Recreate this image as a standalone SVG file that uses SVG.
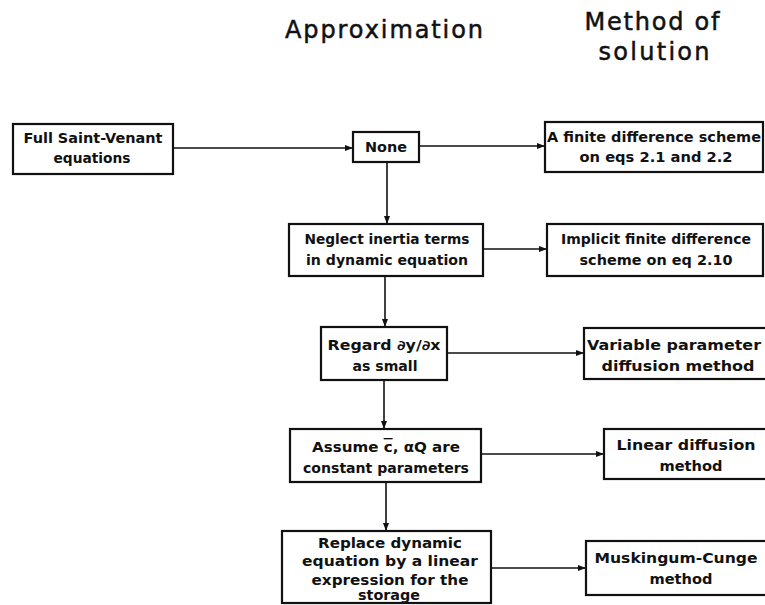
<svg xmlns="http://www.w3.org/2000/svg" width="765" height="605" viewBox="0 0 765 605">
<style>
.box{fill:#fff;stroke:#111;stroke-width:2.2}
.t{font-family:"DejaVu Sans","Liberation Sans",Arial,sans-serif;font-size:13.5px;font-weight:bold;fill:#111;text-anchor:middle}
.h{font-family:"DejaVu Sans","Liberation Sans",Arial,sans-serif;font-size:24px;fill:#111;text-anchor:middle;stroke:#111;stroke-width:0.5}
.c{stroke:#111;stroke-width:1.6;fill:none;marker-end:url(#ah)}
</style>
<defs>
<marker id="ah" markerUnits="userSpaceOnUse" markerWidth="8" markerHeight="6" refX="8" refY="3" orient="auto">
<path d="M0,0 L8,3 L0,6 z" fill="#111"/>
</marker>
</defs>
<rect width="765" height="605" fill="#fff"/>
<g id="headers">
<text class="h" x="384" y="38" textLength="198" lengthAdjust="spacing">Approximation</text>
<text class="h" x="652" y="30" textLength="135" lengthAdjust="spacing">Method of</text>
<text class="h" x="654" y="60" textLength="111" lengthAdjust="spacing">solution</text>
</g>
<g id="connectors">
<line class="c" x1="173" y1="148" x2="353" y2="148"/>
<line class="c" x1="419" y1="146" x2="545" y2="146"/>
<line class="c" x1="387" y1="162" x2="387" y2="224"/>
<line class="c" x1="483" y1="249" x2="547" y2="249"/>
<line class="c" x1="385" y1="276" x2="385" y2="327"/>
<line class="c" x1="447" y1="353" x2="584" y2="353"/>
<line class="c" x1="384" y1="380" x2="384" y2="429"/>
<line class="c" x1="481" y1="454" x2="604" y2="454"/>
<line class="c" x1="386" y1="482" x2="386" y2="531"/>
<line class="c" x1="491" y1="568" x2="586" y2="568"/>
</g>
<g id="n-full">
<rect class="box" x="13" y="124" width="160" height="50"/>
<text class="t" x="93" y="143" textLength="139" lengthAdjust="spacingAndGlyphs">Full Saint-Venant</text>
<text class="t" x="92" y="163" textLength="77" lengthAdjust="spacingAndGlyphs">equations</text>
</g>
<g id="n-none">
<rect class="box" x="353" y="132" width="66" height="30"/>
<text class="t" x="386" y="152" textLength="42" lengthAdjust="spacingAndGlyphs">None</text>
</g>
<g id="n-fd">
<rect class="box" x="545" y="122" width="218" height="50"/>
<text class="t" x="654" y="142" textLength="214" lengthAdjust="spacingAndGlyphs">A finite difference scheme</text>
<text class="t" x="656" y="162" textLength="153" lengthAdjust="spacingAndGlyphs">on eqs 2.1 and 2.2</text>
</g>
<g id="n-neglect">
<rect class="box" x="289" y="224" width="194" height="52"/>
<text class="t" x="387" y="244" textLength="165" lengthAdjust="spacingAndGlyphs">Neglect inertia terms</text>
<text class="t" x="387" y="265" textLength="162" lengthAdjust="spacingAndGlyphs">in dynamic equation</text>
</g>
<g id="n-implicit">
<rect class="box" x="547" y="224" width="216" height="52"/>
<text class="t" x="656" y="244" textLength="190" lengthAdjust="spacingAndGlyphs">Implicit finite difference</text>
<text class="t" x="656" y="265" textLength="153" lengthAdjust="spacingAndGlyphs">scheme on eq 2.10</text>
</g>
<g id="n-regard">
<rect class="box" x="321" y="327" width="126" height="53"/>
<text class="t" x="384" y="350" textLength="113" lengthAdjust="spacingAndGlyphs">Regard ∂y/∂x</text>
<text class="t" x="385" y="371" textLength="65" lengthAdjust="spacingAndGlyphs">as small</text>
</g>
<g id="n-variable">
<rect class="box" x="584" y="328" width="200" height="51"/>
<text class="t" x="674" y="350" textLength="174" lengthAdjust="spacingAndGlyphs">Variable parameter</text>
<text class="t" x="678" y="371" textLength="153" lengthAdjust="spacingAndGlyphs">diffusion method</text>
</g>
<g id="n-assume">
<rect class="box" x="290" y="429" width="191" height="53"/>
<text class="t" x="386" y="452" textLength="148" lengthAdjust="spacingAndGlyphs">Assume <tspan text-decoration="overline">c</tspan>, αQ  are</text>
<text class="t" x="386" y="473" textLength="166" lengthAdjust="spacingAndGlyphs">constant parameters</text>
</g>
<g id="n-linear">
<rect class="box" x="604" y="429" width="180" height="50"/>
<text class="t" x="686" y="450" textLength="139" lengthAdjust="spacingAndGlyphs">Linear diffusion</text>
<text class="t" x="691" y="471" textLength="63" lengthAdjust="spacingAndGlyphs">method</text>
</g>
<g id="n-replace">
<rect class="box" x="282" y="531" width="209" height="72"/>
<text class="t" x="390" y="548" textLength="144" lengthAdjust="spacingAndGlyphs">Replace dynamic</text>
<text class="t" x="390" y="566" textLength="176" lengthAdjust="spacingAndGlyphs">equation by a linear</text>
<text class="t" x="390" y="585" textLength="157" lengthAdjust="spacingAndGlyphs">expression for the</text>
<text class="t" x="389" y="600" textLength="62" lengthAdjust="spacingAndGlyphs">storage</text>
</g>
<g id="n-musk">
<rect class="box" x="586" y="541" width="200" height="54"/>
<text class="t" x="676" y="563" textLength="163" lengthAdjust="spacingAndGlyphs">Muskingum-Cunge</text>
<text class="t" x="681" y="584" textLength="63" lengthAdjust="spacingAndGlyphs">method</text>
</g>
</svg>
